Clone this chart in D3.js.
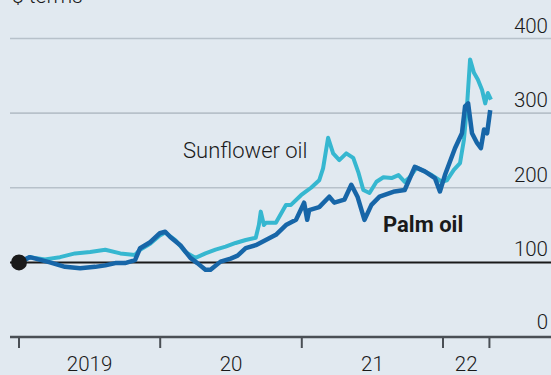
<!DOCTYPE html>
<html>
<head>
<meta charset="utf-8">
<script src="https://cdn.jsdelivr.net/npm/d3@7"></script>
<style>
  html, body { margin: 0; padding: 0; background: #e1e9f0; }
  svg { display: block; }
  text { font-family: Roboto, "Open Sans", sans-serif; fill: #1a1a1a; }
</style>
</head>
<body>
<svg id="chart" width="551" height="375"></svg>
<script>
// ---- data ----
const sunflowerDates = ["2019-01-01","2019-01-29","2019-03-09","2019-04-17","2019-05-26","2019-07-04","2019-08-12","2019-09-20","2019-10-28","2019-11-10","2019-12-06","2019-12-31","2020-01-14","2020-02-09","2020-03-06","2020-04-01","2020-04-27","2020-05-23","2020-06-18","2020-07-14","2020-08-09","2020-09-04","2020-09-12","2020-09-17","2020-09-25","2020-09-30","2020-10-26","2020-11-21","2020-12-04","2020-12-30","2021-01-12","2021-01-25","2021-02-15","2021-02-25","2021-03-10","2021-03-23","2021-04-08","2021-04-26","2021-05-14","2021-05-27","2021-06-09","2021-06-25","2021-07-13","2021-07-31","2021-08-21","2021-09-08","2021-09-24","2021-10-07","2021-10-25","2021-12-03","2021-12-29","2022-01-11","2022-01-29","2022-02-14","2022-02-24","2022-03-04","2022-03-12","2022-03-22","2022-04-01","2022-04-12","2022-04-20","2022-04-27","2022-05-05"];
const sunflowerValues = [100,107,104,107,112,114,117,112,110,117,125,136,140,130,114,106,112,117,121,126,130,133,150,168,150,153,153,177,177,190,195,200,210,226,267,246,237,246,240,221,197,193,208,214,213,217,208,214,227,217,208,210,224,233,264,309,372,354,345,331,313,327,318];

const palmDates = ["2019-01-01","2019-01-29","2019-03-22","2019-04-30","2019-06-08","2019-07-17","2019-08-12","2019-09-07","2019-10-02","2019-10-28","2019-11-10","2019-12-06","2019-12-31","2020-01-14","2020-01-27","2020-02-22","2020-03-19","2020-04-06","2020-04-27","2020-05-10","2020-06-05","2020-07-01","2020-07-19","2020-08-09","2020-09-04","2020-09-30","2020-10-26","2020-11-21","2020-12-17","2021-01-07","2021-01-15","2021-01-20","2021-02-15","2021-03-13","2021-03-26","2021-04-21","2021-05-09","2021-05-25","2021-06-12","2021-06-30","2021-07-21","2021-08-29","2021-09-24","2021-10-20","2021-11-15","2021-12-11","2021-12-24","2022-01-06","2022-02-01","2022-02-19","2022-02-27","2022-03-07","2022-03-17","2022-03-30","2022-04-09","2022-04-17","2022-04-25","2022-05-03"];
const palmValues = [100,107,100,94,92,94,96,99,99,103,119,127,139,141,134,123,106,99,90,90,101,105,109,119,123,130,137,150,157,180,157,170,174,188,180,184,204,188,157,177,188,195,197,228,222,213,195,217,253,273,309,313,273,260,253,278,273,304];

const yTicks = [0, 100, 200, 300, 400];
const yearTicks = ["2019-01-01","2020-01-01","2021-01-01","2022-01-01"];
const yearLabels = ["2019","20","21","22"];
const endTick = "2022-05-01";

// ---- chart ----
const W = 551, H = 375;
const parse = d3.timeParse("%Y-%m-%d");
const svg = d3.select("#chart");

const x = d3.scaleTime()
  .domain([parse("2019-01-01"), parse("2022-01-01")])
  .range([19, 443]);
const y = d3.scaleLinear().domain([0, 400]).range([337, 38.5]);

svg.append("rect").attr("width", W).attr("height", H).attr("fill", "#e1e9f0");

// title fragment
svg.append("text").attr("x", 12).attr("y", 3).attr("font-size", 21).attr("font-weight", 300).text("$ terms");

// gridlines
svg.append("g").selectAll("line").data(yTicks.filter(d => d !== 0 && d !== 100)).join("line")
  .attr("x1", 10).attr("x2", W)
  .attr("y1", d => y(d)).attr("y2", d => y(d))
  .attr("stroke", "#b7c1ca").attr("stroke-width", 1.6);

// y tick labels
svg.append("g").selectAll("text").data(yTicks).join("text")
  .attr("x", 548).attr("y", d => y(d) - (d === 0 ? 8 : 6))
  .attr("text-anchor", "end").attr("font-size", 20.5).attr("font-weight", 300)
  .text(d => d);

// x axis line
svg.append("line").attr("x1", 10).attr("x2", W).attr("y1", y(0)).attr("y2", y(0))
  .attr("stroke", "#4a4f55").attr("stroke-width", 2.5);

// x ticks
const tickDates = yearTicks.concat([endTick]).map(parse);
svg.append("g").selectAll("line").data(tickDates).join("line")
  .attr("x1", d => x(d)).attr("x2", d => x(d))
  .attr("y1", y(0)).attr("y2", y(0) + 11)
  .attr("stroke", "#4a4f55").attr("stroke-width", 2);

// year labels centered between ticks
svg.append("g").selectAll("text").data(yearLabels).join("text")
  .attr("x", (d, i) => (x(tickDates[i]) + x(tickDates[i + 1])) / 2)
  .attr("y", 371).attr("text-anchor", "middle").attr("font-size", 20.5).attr("font-weight", 300)
  .text(d => d);

// 100 baseline
svg.append("line").attr("x1", 10).attr("x2", W).attr("y1", y(100)).attr("y2", y(100))
  .attr("stroke", "#1a1a1a").attr("stroke-width", 2);

const line = d3.line().x(d => x(d[0])).y(d => y(d[1])).curve(d3.curveLinear);
const sun = sunflowerDates.map((d, i) => [parse(d), sunflowerValues[i]]);
const palm = palmDates.map((d, i) => [parse(d), palmValues[i]]);

svg.append("path").datum(sun).attr("d", line).attr("fill", "none")
  .attr("stroke", "#36b7d0").attr("stroke-width", 4).attr("stroke-linejoin", "round");
svg.append("path").datum(palm).attr("d", line).attr("fill", "none")
  .attr("stroke", "#1766a8").attr("stroke-width", 4.5).attr("stroke-linejoin", "round");

// start dot
svg.append("circle").attr("cx", x(parse("2019-01-01"))).attr("cy", y(100)).attr("r", 8).attr("fill", "#1a1a1a");

// labels
svg.append("text").attr("x", 183).attr("y", 158).attr("font-size", 22).attr("font-weight", 300).text("Sunflower oil");
svg.append("text").attr("x", 383).attr("y", 232).attr("font-size", 22).attr("font-weight", 700).text("Palm oil");
</script>
</body>
</html>
